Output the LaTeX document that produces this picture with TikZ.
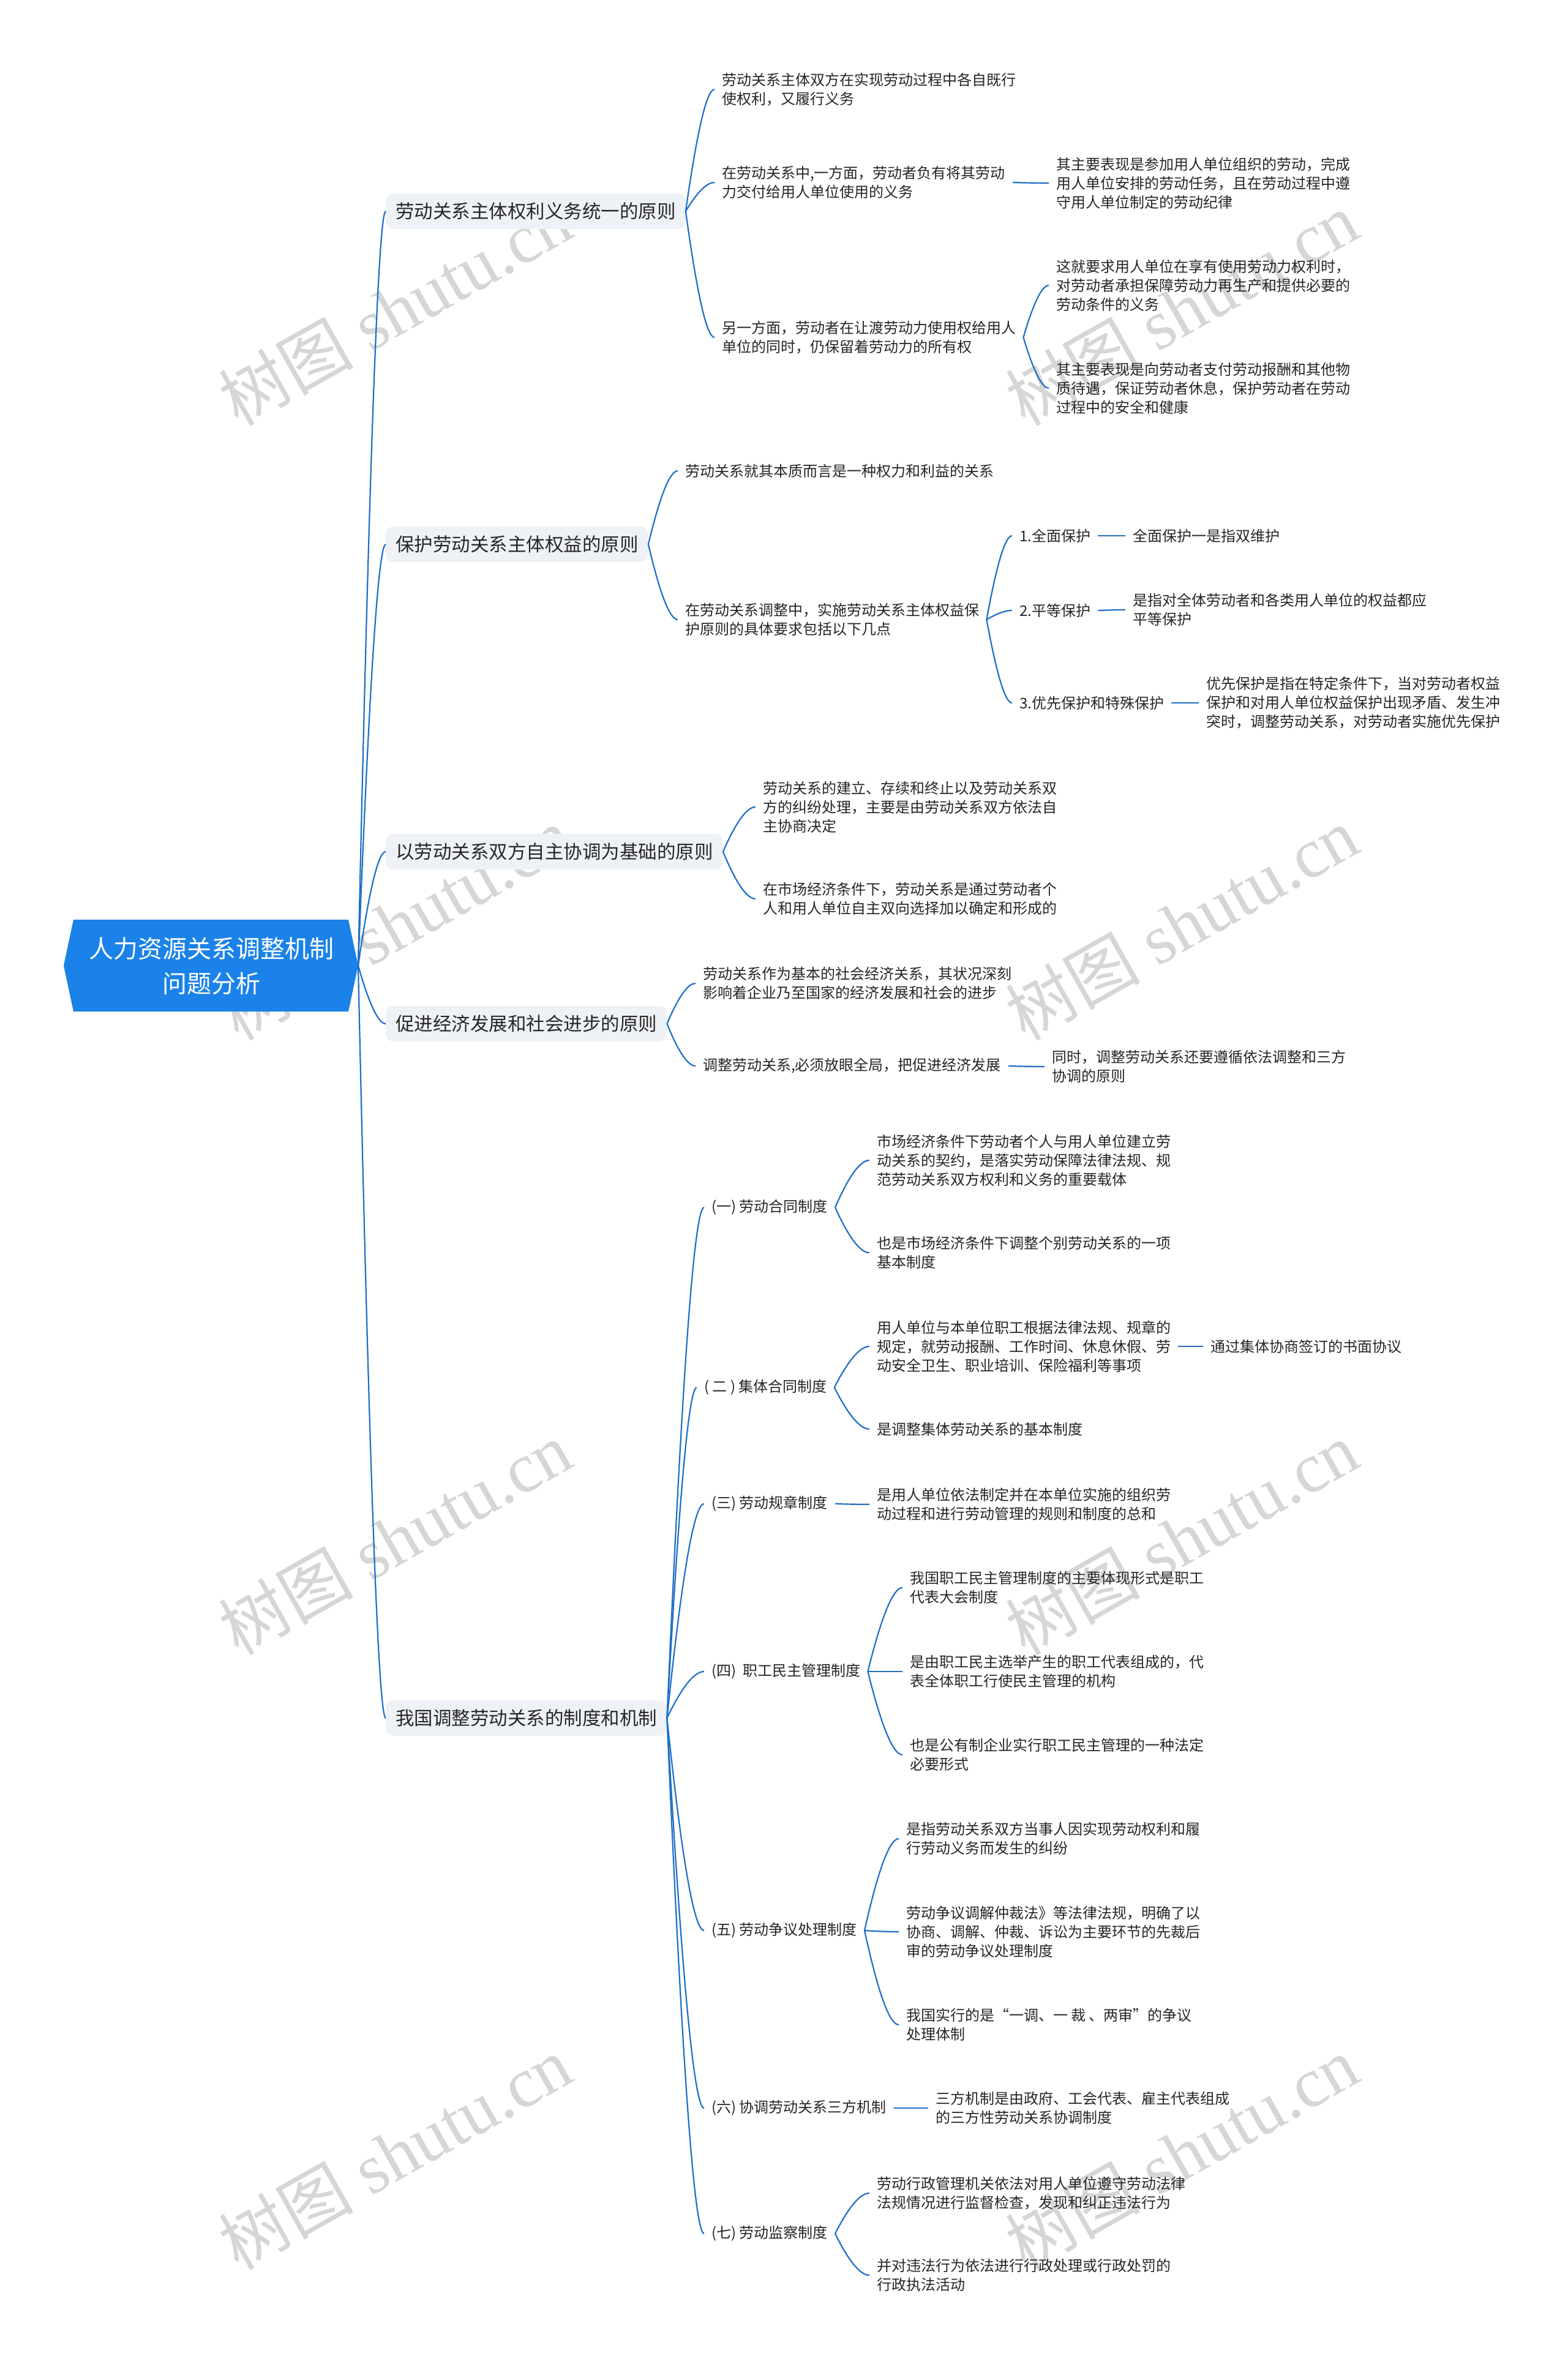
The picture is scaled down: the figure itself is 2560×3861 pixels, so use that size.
\documentclass[tikz,border=0pt]{standalone}
\usepackage{fontspec}
\setmainfont{Noto Sans CJK SC}
\newfontfamily\cjkfont{Noto Sans CJK SC}
\newfontfamily\wmlatin{Liberation Serif}
\usetikzlibrary{calc}
\definecolor{lineblue}{HTML}{1F6FC5}
\definecolor{rootblue}{HTML}{1A82E8}
\definecolor{boxfill}{HTML}{EEF1F5}
\definecolor{txt}{HTML}{262626}
\definecolor{wmgray}{HTML}{D6D6D6}
\tikzset{
  leaf/.style={font=\fontsize{24}{31}\selectfont, text=txt, align=left, inner xsep=12pt, inner ysep=4pt, anchor=west},
  mainbox/.style={font=\fontsize{30.5}{38}\selectfont, text=txt, fill=boxfill, rounded corners=12pt, inner xsep=16pt, minimum height=58pt, anchor=west},
  conn/.style={draw=lineblue, line width=2.2pt},
  wm/.style={text=wmgray, rotate=29.5, inner sep=0pt}
}
\newcommand{\mmlink}[2]{\draw[conn] let \p1=(#1), \p2=(#2) in (\p1) .. controls ({\x1+0.4*(\x2-\x1)},{\y1+0.667*(\y2-\y1)}) and ({\x1+0.733*(\x2-\x1)},{\y2}) .. (\p2);}
\begin{document}
\begin{tikzpicture}[x=1pt,y=-1pt]
\useasboundingbox (0,0) rectangle (2560,3861);
\fill[white] (0,0) rectangle (2560,3861);
% watermarks
\foreach \wx/\wy [count=\i] in {645/505,1930/505,645/1509,1930/1509,645/2513,1930/2513,645/3517,1930/3517}{
  \node[wm] (wm\i) at (\wx,\wy) {{\cjkfont\fontsize{110}{120}\selectfont 树图}\hspace{28pt}{\wmlatin\fontsize{115}{120}\selectfont shutu.cn}};
}
% root
\fill[rootblue] (120,1502) -- (569,1502) -- (585,1577) -- (569,1652) -- (120,1652) -- (104,1577) -- cycle;
\node[font=\fontsize{40}{57}\selectfont, text=white, align=center] (root) at (345,1578) {人力资源关系调整机制\\问题分析};
\coordinate (rootR) at (585,1577);
% main branches
\node[mainbox] (b1) at (630,345) {劳动关系主体权利义务统一的原则};
\node[mainbox] (b2) at (630,889) {保护劳动关系主体权益的原则};
\node[mainbox] (b3) at (630,1391) {以劳动关系双方自主协调为基础的原则};
\node[mainbox] (b4) at (630,1672) {促进经济发展和社会进步的原则};
\node[mainbox] (b5) at (630,2806) {我国调整劳动关系的制度和机制};
% branch 1
\node[leaf] (n11) at (1167,146) {劳动关系主体双方在实现劳动过程中各自既行\\使权利，又履行义务};
\node[leaf] (n12) at (1167,298) {在劳动关系中,一方面，劳动者负有将其劳动\\力交付给用人单位使用的义务};
\node[leaf] (n121) at (1713,299) {其主要表现是参加用人单位组织的劳动，完成\\用人单位安排的劳动任务，且在劳动过程中遵\\守用人单位制定的劳动纪律};
\node[leaf] (n13) at (1167,551) {另一方面，劳动者在让渡劳动力使用权给用人\\单位的同时，仍保留着劳动力的所有权};
\node[leaf] (n131) at (1713,466) {这就要求用人单位在享有使用劳动力权利时，\\对劳动者承担保障劳动力再生产和提供必要的\\劳动条件的义务};
\node[leaf] (n132) at (1713,634) {其主要表现是向劳动者支付劳动报酬和其他物\\质待遇，保证劳动者休息，保护劳动者在劳动\\过程中的安全和健康};
% branch 2
\node[leaf] (n21) at (1107,769) {劳动关系就其本质而言是一种权力和利益的关系};
\node[leaf] (n22) at (1107,1012) {在劳动关系调整中，实施劳动关系主体权益保\\护原则的具体要求包括以下几点};
\node[leaf] (n221) at (1653,875) {1.全面保护};
\node[leaf] (n2211) at (1838,875) {全面保护一是指双维护};
\node[leaf] (n222) at (1653,997) {2.平等保护};
\node[leaf] (n2221) at (1838,996) {是指对全体劳动者和各类用人单位的权益都应\\平等保护};
\node[leaf] (n223) at (1653,1148) {3.优先保护和特殊保护};
\node[leaf] (n2231) at (1958,1148) {优先保护是指在特定条件下，当对劳动者权益\\保护和对用人单位权益保护出现矛盾、发生冲\\突时，调整劳动关系，对劳动者实施优先保护};
% branch 3
\node[leaf] (n31) at (1234,1318) {劳动关系的建立、存续和终止以及劳动关系双\\方的纠纷处理，主要是由劳动关系双方依法自\\主协商决定};
\node[leaf] (n32) at (1234,1468) {在市场经济条件下，劳动关系是通过劳动者个\\人和用人单位自主双向选择加以确定和形成的};
% branch 4
\node[leaf] (n41) at (1136,1606) {劳动关系作为基本的社会经济关系，其状况深刻\\影响着企业乃至国家的经济发展和社会的进步};
\node[leaf] (n42) at (1136,1741) {调整劳动关系,必须放眼全局，把促进经济发展};
\node[leaf] (n421) at (1706,1742) {同时，调整劳动关系还要遵循依法调整和三方\\协调的原则};
% branch 5
\node[leaf] (m1) at (1150,1972) {(一) 劳动合同制度};
\node[leaf] (m11) at (1420,1895) {市场经济条件下劳动者个人与用人单位建立劳\\动关系的契约，是落实劳动保障法律法规、规\\范劳动关系双方权利和义务的重要载体};
\node[leaf] (m12) at (1420,2046) {也是市场经济条件下调整个别劳动关系的一项\\基本制度};
\node[leaf] (m2) at (1138,2266) {( 二 ) 集体合同制度};
\node[leaf] (m21) at (1420,2199) {用人单位与本单位职工根据法律法规、规章的\\规定，就劳动报酬、工作时间、休息休假、劳\\动安全卫生、职业培训、保险福利等事项};
\node[leaf] (m211) at (1965,2199) {通过集体协商签订的书面协议};
\node[leaf] (m22) at (1420,2334) {是调整集体劳动关系的基本制度};
\node[leaf] (m3) at (1150,2456) {(三) 劳动规章制度};
\node[leaf] (m31) at (1420,2457) {是用人单位依法制定并在本单位实施的组织劳\\动过程和进行劳动管理的规则和制度的总和};
\node[leaf] (m4) at (1150,2730) {(四)\ \ 职工民主管理制度};
\node[leaf] (m41) at (1474,2593) {我国职工民主管理制度的主要体现形式是职工\\代表大会制度};
\node[leaf] (m42) at (1474,2730) {是由职工民主选举产生的职工代表组成的，代\\表全体职工行使民主管理的机构};
\node[leaf] (m43) at (1474,2866) {也是公有制企业实行职工民主管理的一种法定\\必要形式};
\node[leaf] (m5) at (1150,3153) {(五) 劳动争议处理制度};
\node[leaf] (m51) at (1468,3003) {是指劳动关系双方当事人因实现劳动权利和履\\行劳动义务而发生的纠纷};
\node[leaf] (m52) at (1468,3155) {劳动争议调解仲裁法》等法律法规，明确了以\\协商、调解、仲裁、诉讼为主要环节的先裁后\\审的劳动争议处理制度};
\node[leaf] (m53) at (1468,3307) {我国实行的是“一调、一 裁 、两审”的争议\\处理体制};
\node[leaf] (m6) at (1150,3443) {(六) 协调劳动关系三方机制};
\node[leaf] (m61) at (1516,3443) {三方机制是由政府、工会代表、雇主代表组成\\的三方性劳动关系协调制度};
\node[leaf] (m7) at (1150,3648) {(七) 劳动监察制度};
\node[leaf] (m71) at (1420,3582) {劳动行政管理机关依法对用人单位遵守劳动法律\\法规情况进行监督检查，发现和纠正违法行为};
\node[leaf] (m72) at (1420,3716) {并对违法行为依法进行行政处理或行政处罚的\\行政执法活动};
% connectors
\foreach \b in {b1,b2,b3,b4,b5}{\mmlink{rootR}{\b.west}}
\foreach \c in {n11,n12,n13}{\mmlink{b1.east}{\c.west}}
\mmlink{n12.east}{n121.west}
\foreach \c in {n131,n132}{\mmlink{n13.east}{\c.west}}
\foreach \c in {n21,n22}{\mmlink{b2.east}{\c.west}}
\foreach \c in {n221,n222,n223}{\mmlink{n22.east}{\c.west}}
\mmlink{n221.east}{n2211.west}
\mmlink{n222.east}{n2221.west}
\mmlink{n223.east}{n2231.west}
\foreach \c in {n31,n32}{\mmlink{b3.east}{\c.west}}
\foreach \c in {n41,n42}{\mmlink{b4.east}{\c.west}}
\mmlink{n42.east}{n421.west}
\foreach \c in {m1,m2,m3,m4,m5,m6,m7}{\mmlink{b5.east}{\c.west}}
\foreach \c in {m11,m12}{\mmlink{m1.east}{\c.west}}
\foreach \c in {m21,m22}{\mmlink{m2.east}{\c.west}}
\mmlink{m21.east}{m211.west}
\mmlink{m3.east}{m31.west}
\foreach \c in {m41,m42,m43}{\mmlink{m4.east}{\c.west}}
\foreach \c in {m51,m52,m53}{\mmlink{m5.east}{\c.west}}
\mmlink{m6.east}{m61.west}
\foreach \c in {m71,m72}{\mmlink{m7.east}{\c.west}}
\end{tikzpicture}
\end{document}
